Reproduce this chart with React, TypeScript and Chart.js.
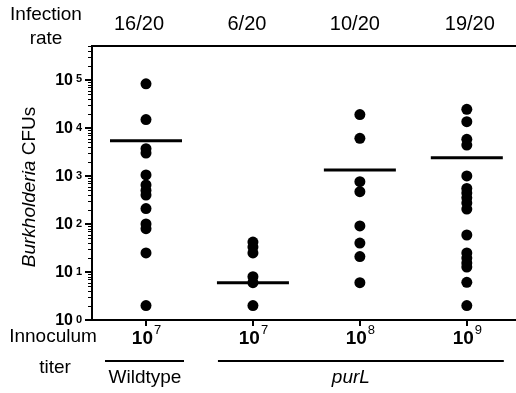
import React, { useEffect, useRef } from 'react';
import { Chart, registerables } from 'chart.js';

Chart.register(...registerables);

const FONT = "'Liberation Sans', Arial, sans-serif";

// ---- data ----
const infectionRates = ['16/20', '6/20', '10/20', '19/20'];
const titerExponents = ['7', '7', '8', '9'];
const wildtypeCFU = [83000, 15000, 3700, 3000, 1050, 650, 500, 400, 210, 100, 80, 25, 2];
const purL7CFU = [42, 33, 25, 8, 6, 2];
const purL8CFU = [19000, 6100, 760, 470, 91, 40, 21, 6];
const purL9CFU = [24500, 13500, 5800, 4400, 1000, 550, 440, 350, 275, 205, 59, 25, 19.5, 15.4, 12.7, 6.1, 2];
const meanCFU = [5400, 6, 1330, 2400];
const yTickExponents = [0, 1, 2, 3, 4, 5];
const Y_MIN = 1;
const Y_MAX = 5.1e5;

// layout constants (style only)
const rateOffsets = [-7, -6, -5, 3];

const decorPlugin = {
  id: 'decor',
  afterDraw(chart: any) {
    const { ctx, chartArea: ca, scales } = chart;
    const x = scales.x;
    const y = scales.y;
    ctx.save();
    ctx.strokeStyle = '#000';
    ctx.fillStyle = '#000';

    // top border line
    ctx.lineWidth = 2;
    ctx.beginPath();
    ctx.moveTo(ca.left - 1, ca.top);
    ctx.lineTo(ca.right, ca.top);
    ctx.stroke();

    // y ticks
    for (let e = 0; e <= 5; e++) {
      for (let m = 1; m <= 9; m++) {
        const v = m * Math.pow(10, e);
        if (v > Y_MAX) break;
        const py = Math.round(y.getPixelForValue(v));
        ctx.beginPath();
        if (m === 1) {
          ctx.lineWidth = 2;
          ctx.moveTo(ca.left - 7, py);
          ctx.lineTo(ca.left, py);
        } else {
          ctx.lineWidth = 1;
          ctx.moveTo(ca.left - 4, py + 0.5);
          ctx.lineTo(ca.left, py + 0.5);
        }
        ctx.stroke();
      }
    }

    // y tick labels
    yTickExponents.forEach((e) => {
      const py = y.getPixelForValue(Math.pow(10, e));
      ctx.font = `bold 16px ${FONT}`;
      ctx.textAlign = 'right';
      ctx.textBaseline = 'middle';
      ctx.fillText('10', ca.left - 19, py + 1);
      ctx.font = `bold 11px ${FONT}`;
      ctx.textAlign = 'left';
      ctx.textBaseline = 'top';
      ctx.fillText(String(e), ca.left - 16, py - 6);
    });

    // x ticks
    ctx.lineWidth = 2;
    infectionRates.forEach((_, i) => {
      const px = Math.round(x.getPixelForValue(i));
      ctx.beginPath();
      ctx.moveTo(px, ca.bottom);
      ctx.lineTo(px, ca.bottom + 6);
      ctx.stroke();
    });

    // infection rates on top
    ctx.font = `20px ${FONT}`;
    ctx.textAlign = 'center';
    ctx.textBaseline = 'middle';
    infectionRates.forEach((r, i) => {
      ctx.fillText(r, x.getPixelForValue(i) + rateOffsets[i], 24);
    });
    ctx.font = `19px ${FONT}`;
    ctx.fillText('Infection', 46, 15);
    ctx.fillText('rate', 46, 39);

    // titers
    titerExponents.forEach((t, i) => {
      const cx = x.getPixelForValue(i);
      ctx.font = `bold 19px ${FONT}`;
      const w1 = ctx.measureText('10').width;
      ctx.font = `13px ${FONT}`;
      const w2 = ctx.measureText(t).width;
      const start = cx - (w1 + w2) / 2;
      ctx.textAlign = 'left';
      ctx.textBaseline = 'alphabetic';
      ctx.font = `bold 19px ${FONT}`;
      ctx.fillText('10', start, 344);
      ctx.font = `13px ${FONT}`;
      ctx.fillText(t, start + w1 + 1, 334);
    });

    ctx.font = `19px ${FONT}`;
    ctx.textAlign = 'center';
    ctx.textBaseline = 'middle';
    ctx.fillText('Innoculum', 53, 337);
    ctx.fillText('titer', 55, 368);

    // group underlines
    ctx.lineWidth = 2;
    const x0 = x.getPixelForValue(0);
    const x1 = x.getPixelForValue(1);
    const x3 = x.getPixelForValue(3);
    ctx.beginPath();
    ctx.moveTo(x0 - 41, 361);
    ctx.lineTo(x0 + 38, 361);
    ctx.moveTo(x1 - 35, 361);
    ctx.lineTo(x3 + 37, 361);
    ctx.stroke();

    ctx.fillText('Wildtype', x0 - 1, 378);
    ctx.font = `italic 19px ${FONT}`;
    ctx.fillText('purL', (x1 + x3) / 2 - 9, 378);

    // y axis title with italic genus
    ctx.translate(30, 187);
    ctx.rotate(-Math.PI / 2);
    ctx.font = `italic 19px ${FONT}`;
    const wa = ctx.measureText('Burkholderia').width;
    ctx.font = `19px ${FONT}`;
    const wb = ctx.measureText(' CFUs').width;
    const s = -(wa + wb) / 2;
    ctx.textAlign = 'left';
    ctx.textBaseline = 'middle';
    ctx.font = `italic 19px ${FONT}`;
    ctx.fillText('Burkholderia', s, 0);
    ctx.font = `19px ${FONT}`;
    ctx.fillText(' CFUs', s + wa, 0);

    ctx.restore();
  },
};

export default function App() {
  const canvasRef = useRef<HTMLCanvasElement>(null);

  useEffect(() => {
    if (!canvasRef.current) return;
    const groups = [wildtypeCFU, purL7CFU, purL8CFU, purL9CFU];
    const chart = new Chart(canvasRef.current, {
      type: 'scatter',
      data: {
        datasets: [
          {
            label: 'Mean',
            data: meanCFU.map((v, i) => ({ x: i, y: v })),
            pointStyle: 'line',
            pointRadius: 36,
            pointBorderWidth: 3,
            pointBorderColor: '#000',
            borderColor: '#000',
            showLine: false,
          },
          {
            label: 'CFU',
            data: groups.flatMap((vals, i) => vals.map((v) => ({ x: i, y: v }))),
            pointRadius: 5.5,
            pointBackgroundColor: '#000',
            pointBorderColor: '#000',
            pointBorderWidth: 0,
            showLine: false,
          },
        ],
      },
      options: {
        animation: false,
        responsive: false,
        devicePixelRatio: 1,
        events: [],
        layout: { autoPadding: false, padding: { left: 92, top: 46, right: 0, bottom: 73 } },
        plugins: { legend: { display: false }, tooltip: { enabled: false } },
        scales: {
          x: {
            type: 'linear',
            min: -0.505,
            max: 3.46,
            ticks: { display: false, padding: 0 },
            grid: { display: false, drawTicks: false, tickLength: 0 },
            border: { display: true, color: '#000', width: 2 },
          },
          y: {
            type: 'logarithmic',
            min: Y_MIN,
            max: Y_MAX,
            ticks: { display: false, padding: 0 },
            grid: { display: false, drawTicks: false, tickLength: 0 },
            border: { display: true, color: '#000', width: 2 },
          },
        },
      },
      plugins: [decorPlugin],
    } as any);
    return () => chart.destroy();
  }, []);

  return (
    <div style={{ position: 'fixed', left: 0, top: 0, width: 516, height: 393, background: '#fff' }}>
      <canvas ref={canvasRef} width={516} height={393} style={{ display: 'block' }} />
    </div>
  );
}
